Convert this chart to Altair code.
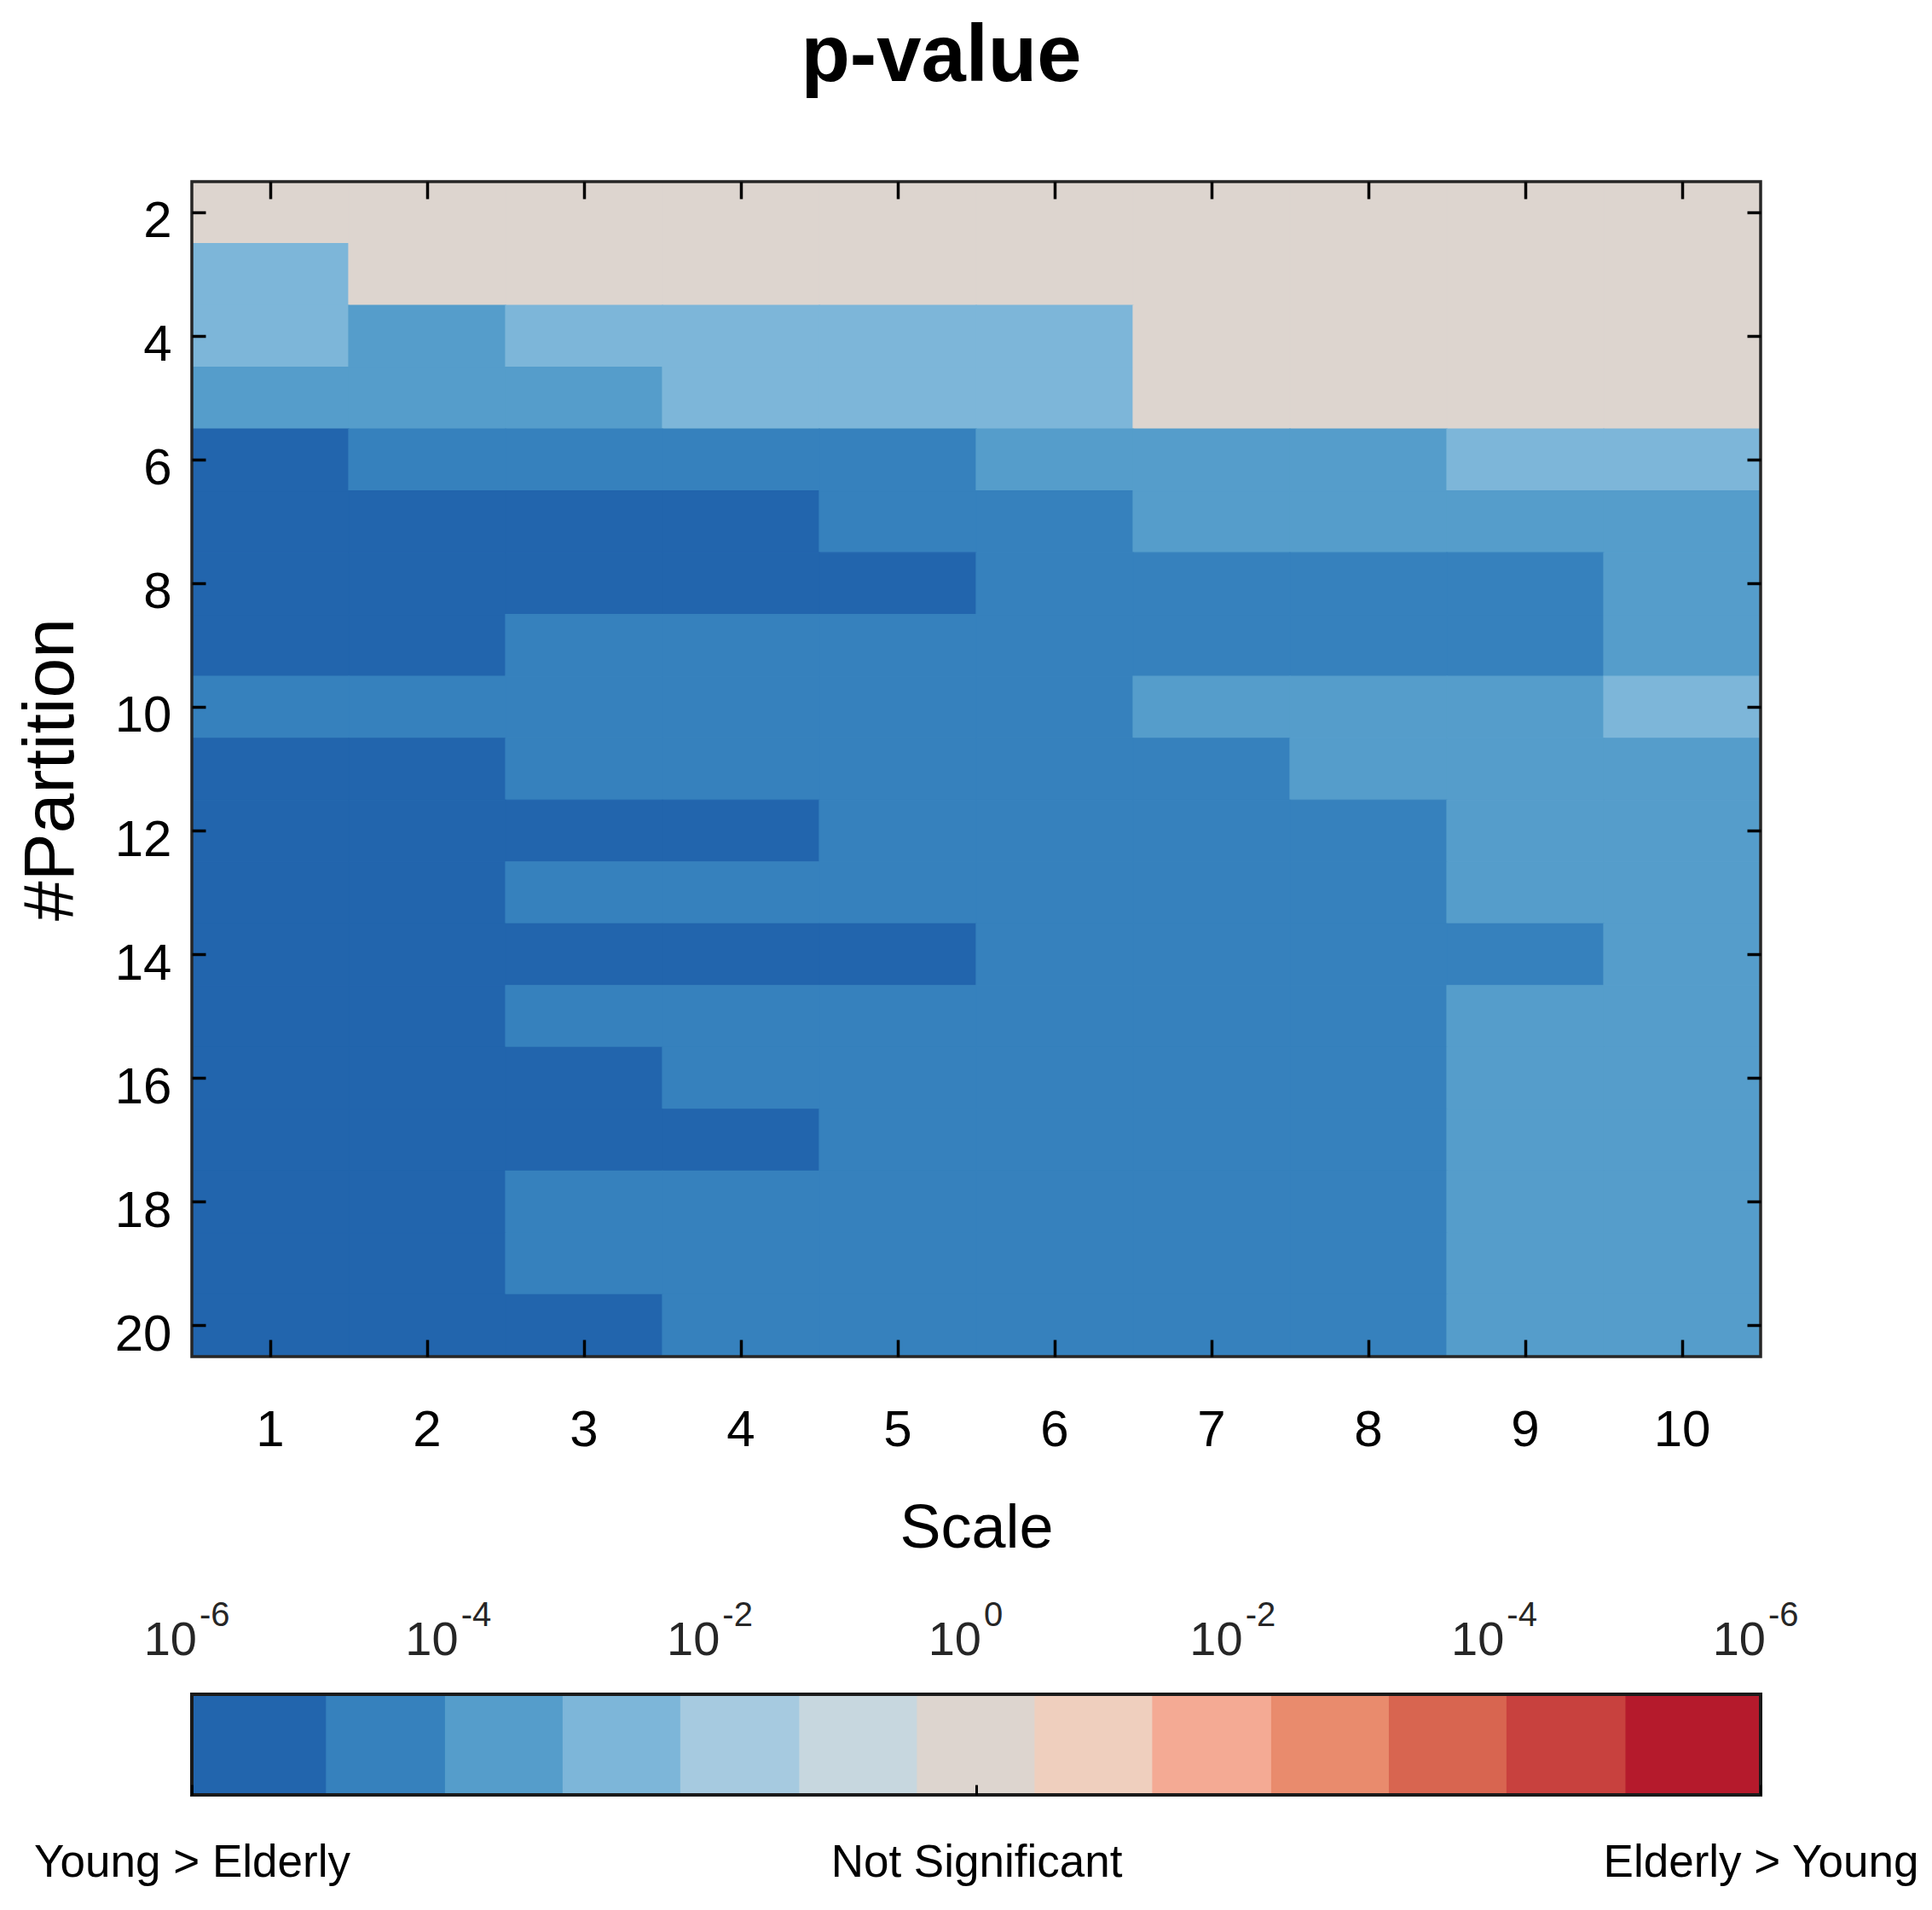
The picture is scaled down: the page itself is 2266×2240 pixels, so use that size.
import altair as alt
import pandas as pd

FONT = "Liberation Sans, Arial, Helvetica, sans-serif"
INK = "#262626"
TICK = "#000000"

# ---------------- data ----------------
scales = list(range(1, 11))
partitions = list(range(2, 21))

# colour-bin index of every cell, one list per #Partition row (columns = Scale 1..10)
# 0 = darkest blue (strongest Young > Elderly) ... 6 = Not Significant
p02 = [6, 6, 6, 6, 6, 6, 6, 6, 6, 6]
p03 = [3, 6, 6, 6, 6, 6, 6, 6, 6, 6]
p04 = [3, 2, 3, 3, 3, 3, 6, 6, 6, 6]
p05 = [2, 2, 2, 3, 3, 3, 6, 6, 6, 6]
p06 = [0, 1, 1, 1, 1, 2, 2, 2, 3, 3]
p07 = [0, 0, 0, 0, 1, 1, 2, 2, 2, 2]
p08 = [0, 0, 0, 0, 0, 1, 1, 1, 1, 2]
p09 = [0, 0, 1, 1, 1, 1, 1, 1, 1, 2]
p10 = [1, 1, 1, 1, 1, 1, 2, 2, 2, 3]
p11 = [0, 0, 1, 1, 1, 1, 1, 2, 2, 2]
p12 = [0, 0, 0, 0, 1, 1, 1, 1, 2, 2]
p13 = [0, 0, 1, 1, 1, 1, 1, 1, 2, 2]
p14 = [0, 0, 0, 0, 0, 1, 1, 1, 1, 2]
p15 = [0, 0, 1, 1, 1, 1, 1, 1, 2, 2]
p16 = [0, 0, 0, 1, 1, 1, 1, 1, 2, 2]
p17 = [0, 0, 0, 0, 1, 1, 1, 1, 2, 2]
p18 = [0, 0, 1, 1, 1, 1, 1, 1, 2, 2]
p19 = [0, 0, 1, 1, 1, 1, 1, 1, 2, 2]
p20 = [0, 0, 0, 1, 1, 1, 1, 1, 2, 2]
rows = [p02, p03, p04, p05, p06, p07, p08, p09, p10, p11,
        p12, p13, p14, p15, p16, p17, p18, p19, p20]

# colour bar: bin edges in signed decades of p-value (-6 = 1e-6 Young>Elderly, +6 = 1e-6 Elderly>Young)
bin_edges = [-6, -4.97, -4.06, -3.16, -2.26, -1.35, -0.45,
             0.45, 1.35, 2.26, 3.16, 4.06, 4.97, 6]
bin_colors = ["#2265ad", "#3681bd", "#559dcb", "#7db6d9", "#a6cae0", "#c7d7df",
              "#ddd5cf", "#efcfbe", "#f4aa94", "#e98b6d", "#d86550", "#c8413e", "#b51a2c"]
tick_values = [-6, -4, -2, 0, 2, 4, 6]
tick_exponents = ["-6", "-4", "-2", "0", "-2", "-4", "-6"]
side_values = [-6, 0, 6]
side_labels = ["Young > Elderly", "Not Significant", "Elderly > Young"]

# ---------------- tables ----------------
cells = pd.DataFrame(
    [{"partition": p, "scale": s, "bin": b}
     for p, row in zip(partitions, rows) for s, b in zip(scales, row)]
)
bins = pd.DataFrame({"lo": bin_edges[:-1], "hi": bin_edges[1:],
                     "bin": list(range(len(bin_colors)))})
ticks = pd.DataFrame({"v": tick_values, "e": tick_exponents})
one = pd.DataFrame({"k": [0]})

color_scale = alt.Scale(domain=list(range(len(bin_colors))), range=bin_colors)

HW, HH = 1840, 1378   # heat-map plot area
CW, CH = 1840, 118    # colour-bar plot area

TK = dict(tickColor=TICK, tickOpacity=1, tickWidth=3.5, zindex=2, domain=False)

# ---------------- heat map ----------------
xs = alt.Scale(paddingInner=0, paddingOuter=0)
ys = alt.Scale(paddingInner=0, paddingOuter=0)

heat_main = alt.Chart(cells).mark_rect(strokeWidth=1.2).encode(
    x=alt.X("scale:O", sort=scales, scale=xs, title="Scale",
            axis=alt.Axis(orient="bottom", offset=-20, tickSize=20, **TK,
                          labelAngle=0, labelFont=FONT, labelFontSize=60,
                          labelPadding=57, titleFont=FONT, titleFontSize=72,
                          titleFontWeight="normal", titlePadding=50)),
    y=alt.Y("partition:O", sort=partitions, scale=ys, title="#Partition",
            axis=alt.Axis(orient="left", offset=-16, tickSize=16, **TK,
                          values=partitions[::2], labelFont=FONT,
                          labelFontSize=60, labelPadding=24, labelOffset=11,
                          titleFont=FONT, titleFontSize=84, titleFontWeight="normal",
                          titlePadding=31)),
    color=alt.Color("bin:O", scale=color_scale, legend=None),
    stroke=alt.Stroke("bin:O", scale=color_scale, legend=None),
)

heat_ticks = alt.Chart(cells).mark_rect(opacity=0).encode(
    x=alt.X("scale:O", sort=scales, scale=xs, title=None,
            axis=alt.Axis(orient="top", offset=-20, tickSize=20, **TK, labels=False)),
    y=alt.Y("partition:O", sort=partitions, scale=ys, title=None,
            axis=alt.Axis(orient="right", offset=-16, tickSize=16, **TK,
                          values=partitions[::2], labels=False)),
)

heat_frame = alt.Chart(one).mark_rect(filled=False, stroke=INK, strokeWidth=3.5).encode(
    x=alt.value(0), x2=alt.value(HW), y=alt.value(0), y2=alt.value(HH)
)

heat = alt.layer(heat_main, heat_ticks, heat_frame).resolve_axis(
    x="independent", y="independent"
).properties(
    width=HW, height=HH,
    title=alt.TitleParams("p-value", font=FONT, fontSize=94, fontWeight="bold",
                          color="black", anchor="middle", frame="group",
                          baseline="alphabetic", offset=22, dx=-41),
)

# ---------------- colour bar ----------------
side_expr = ("datum.value < -3 ? '" + side_labels[0] + "' : datum.value > 3 ? '"
             + side_labels[2] + "' : '" + side_labels[1] + "'")

cb_x = alt.Scale(domain=[-6, 6], nice=False, zero=False)

bar = alt.Chart(bins).mark_rect(strokeWidth=1.2).encode(
    x=alt.X("lo:Q", scale=cb_x, title=None,
            axis=alt.Axis(orient="bottom", values=side_values, labelExpr=side_expr,
                          offset=-12, tickSize=12, tickColor=TICK, tickOpacity=1,
                          tickWidth=3, zindex=2, domain=False, grid=False, labelLimit=0,
                          labelFont=FONT, labelFontSize=53, labelPadding=53,
                          labelFlush=False, labelOverlap=False, labelBound=False)),
    x2="hi:Q",
    color=alt.Color("bin:O", scale=color_scale, legend=None),
    stroke=alt.Stroke("bin:O", scale=color_scale, legend=None),
)

base_txt = alt.Chart(ticks).mark_text(
    align="right", baseline="alphabetic", dx=6, dy=-46,
    font=FONT, fontSize=56, color=INK,
).encode(x=alt.X("v:Q", scale=cb_x, title=None), y=alt.value(0), text=alt.value("10"))

exp_txt = alt.Chart(ticks).mark_text(
    align="left", baseline="alphabetic", dx=9, dy=-80,
    font=FONT, fontSize=40, color=INK,
).encode(x=alt.X("v:Q", scale=cb_x, title=None), y=alt.value(0), text="e:N")

bar_frame = alt.Chart(one).mark_rect(filled=False, stroke="#1a1a1a", strokeWidth=4).encode(
    x=alt.value(0), x2=alt.value(CW), y=alt.value(0), y2=alt.value(CH)
)

colorbar = alt.layer(bar, bar_frame, base_txt, exp_txt).properties(width=CW, height=CH)

chart = alt.vconcat(
    heat, colorbar, spacing=396, bounds="flush",
    padding={"left": 9, "top": 11, "right": 5, "bottom": 5},
).configure_view(
    stroke=None,
).configure_axis(
    labelColor=INK, titleColor="black", tickColor=TICK, grid=False,
).configure(background="white")

chart.save("out.html", embed_options={"renderer": "svg", "actions": False})
